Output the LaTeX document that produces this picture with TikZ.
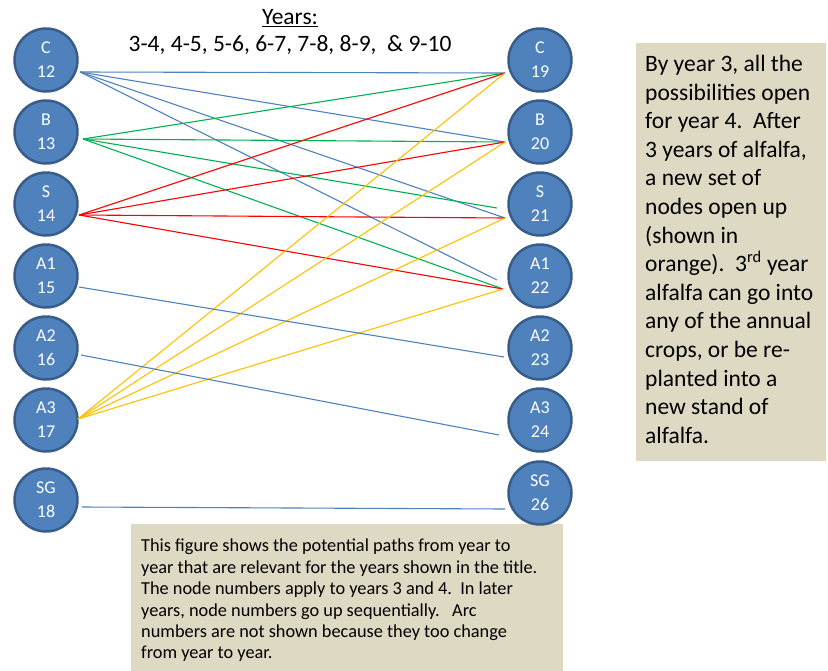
\documentclass[tikz,border=0pt]{standalone}
\usepackage{fontspec}
\setmainfont{Carlito}
\usetikzlibrary{positioning,calc}
\definecolor{cropblue}{HTML}{4F81BD}
\definecolor{cropedge}{HTML}{385D8A}
\definecolor{pathgreen}{HTML}{00B050}
\definecolor{pathred}{HTML}{FF0000}
\definecolor{pathorange}{HTML}{FFC000}
\definecolor{notefill}{HTML}{DDD9C3}

\begin{document}
\begin{tikzpicture}[x=1pt, y=-1pt, node distance=6.5pt and 6.5pt,
  crop/.style={circle, draw=cropedge, line width=2.5pt, fill=cropblue, minimum size=63pt,
    inner sep=0pt, text=white, align=center, font=\fontsize{18}{24}\selectfont},
  arc/.style={line width=1.1pt}]
  \useasboundingbox (0,0) rectangle (828,670);

  % note boxes
  \fill[notefill] (131,524) rectangle (563,672);
  \fill[notefill] (636,43) rectangle (826,461);

  % year 3 nodes
  \node[crop] (n12) at (46,60) {C\\12};
  \node[crop] (n13) [below=of n12] {B\\13};
  \node[crop] (n14) [below=of n13] {S\\14};
  \node[crop] (n15) [below=of n14] {A1\\15};
  \node[crop] (n16) [below=of n15] {A2\\16};
  \node[crop] (n17) [below=of n16] {A3\\17};
  \node[crop] (n18) [below=of n17, yshift=-8pt] {SG\\18};

  % year 4 nodes
  \node[crop] (n19) at (540,60) {C\\19};
  \node[crop] (n20) [below=of n19] {B\\20};
  \node[crop] (n21) [below=of n20] {S\\21};
  \node[crop] (n22) [below=of n21] {A1\\22};
  \node[crop] (n23) [below=of n22] {A2\\23};
  \node[crop] (n24) [below=of n23] {A3\\24};
  \node[crop] (n26) [below=of n24, yshift=-1pt] {SG\\26};

  % arc ends
  \coordinate (o12) at ($(n12)+(34,12)$);
  \coordinate (o13) at ($(n13)+(37,7)$);
  \coordinate (o14) at ($(n14)+(33,11)$);
  \coordinate (o15) at ($(n15)+(33,11)$);
  \coordinate (o16) at ($(n16)+(35,7)$);
  \coordinate (o17) at ($(n17)+(32,-1)$);
  \coordinate (o18) at ($(n18)+(36,7)$);
  \coordinate (i19) at ($(n19)+(-35,13)$);
  \coordinate (i20) at ($(n20)+(-35,10)$);
  \coordinate (i21) at ($(n21)+(-35,14)$);
  \coordinate (i21g) at ($(n21)+(-43,4)$);
  \coordinate (i22) at ($(n22)+(-37,13)$);
  \coordinate (i22b) at ($(n22)+(-43,4)$);
  \coordinate (i23) at ($(n23)+(-36,9)$);
  \coordinate (i24) at ($(n24)+(-41,15)$);
  \coordinate (i26) at ($(n26)+(-35,16)$);

  \draw[arc, cropblue] (o12) -- (i19);
  \draw[arc, cropblue] (o12) -- (i20);
  \draw[arc, cropblue] (o12) -- (i21);
  \draw[arc, cropblue] (o12) -- (i22b);
  \draw[arc, pathgreen] (o13) -- (i19);
  \draw[arc, pathgreen] (o13) -- (i20);
  \draw[arc, pathgreen] (o13) -- (i21g);
  \draw[arc, pathgreen] (o13) -- (i22);
  \draw[arc, pathred] (o14) -- (i19);
  \draw[arc, pathred] (o14) -- (i20);
  \draw[arc, pathred] (o14) -- (i21);
  \draw[arc, pathred] (o14) -- (i22);
  \draw[arc, pathorange] (o17) -- (i19);
  \draw[arc, pathorange] (o17) -- (i20);
  \draw[arc, pathorange] (o17) -- (i21);
  \draw[arc, pathorange] (o17) -- (i22);
  \draw[arc, cropblue] (o15) -- (i23);
  \draw[arc, cropblue] (o16) -- (i24);
  \draw[arc, cropblue] (o18) -- (i26);

  % texts
  \node[align=center, font=\fontsize{23.5}{27}\selectfont] (title) at (290,32)
    {\underline{Years:}\\3-4, 4-5, 5-6, 6-7, 7-8, 8-9,\ \ \& 9-10};
  \node[anchor=north west, inner sep=0pt, align=left, font=\fontsize{23.5}{28.6}\selectfont] (sidenote) at (645,55)
    {By year 3, all the\\possibilities open\\for year 4.\ \ After\\3 years of alfalfa,\\a new set of\\nodes open up\\(shown in\\orange).\ \ 3\textsuperscript{rd} year\\alfalfa can go into\\any of the annual\\crops, or be re-\\planted into a\\new stand of\\alfalfa.};
  \node[anchor=north west, inner sep=0pt, align=left, font=\fontsize{18.3}{21.4}\selectfont] (footnote) at (141,539)
    {This figure shows the potential paths from year to\\year that are relevant for the years shown in the title.\\The node numbers apply to years 3 and 4.\ \ In later\\years, node numbers go up sequentially.\ \ \ Arc\\numbers are not shown because they too change\\from year to year.};
\end{tikzpicture}
\end{document}
